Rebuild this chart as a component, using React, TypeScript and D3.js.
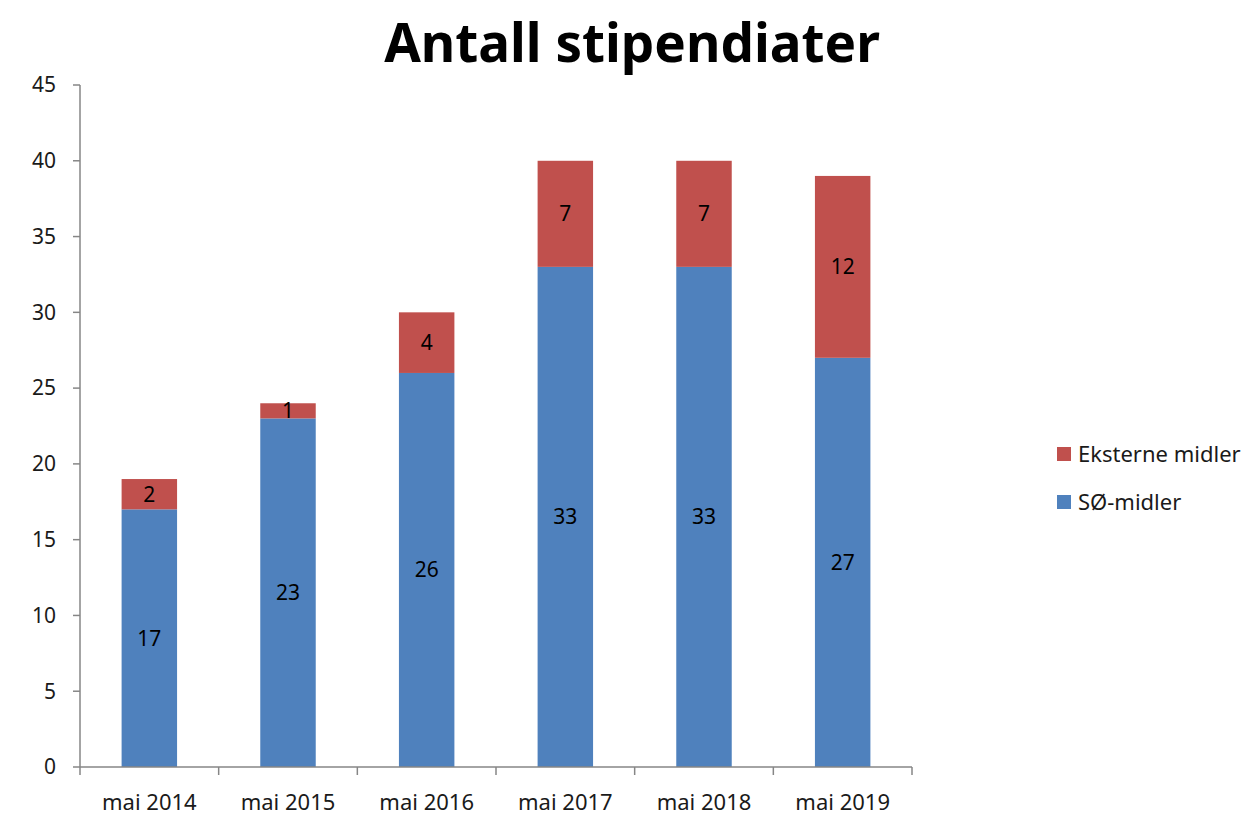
import React, { useEffect, useRef } from "react";
import * as d3 from "d3";

const categories = ["mai 2014", "mai 2015", "mai 2016", "mai 2017", "mai 2018", "mai 2019"];
const soMidler = [17, 23, 26, 33, 33, 27];
const eksterneMidler = [2, 1, 4, 7, 7, 12];
const yTicks = [0, 5, 10, 15, 20, 25, 30, 35, 40, 45];

const FONT = "'Noto Sans', 'Open Sans', sans-serif";

export default function App() {
  const svgRef = useRef<SVGSVGElement>(null);

  useEffect(() => {
    if (!svgRef.current) return;
    const svg = d3.select(svgRef.current);
    svg.selectAll("*").remove();

    const left = 80, right = 912, top = 85, bottom = 767;

    const x = d3.scaleBand<string>().domain(categories).range([left, right]).paddingInner(0.6).paddingOuter(0.3);
    const xEdges = d3.scaleLinear().domain([0, categories.length]).range([left, right]);
    const y = d3.scaleLinear().domain([0, 45]).range([bottom, top]);

    // title
    svg.append("text")
      .attr("x", 632).attr("y", 62)
      .attr("text-anchor", "middle")
      .attr("font-family", FONT)
      .attr("font-weight", "bold")
      .attr("font-size", 53)
      .attr("fill", "#000")
      .text("Antall stipendiater");

    // bars
    const g = svg.append("g");
    categories.forEach((c, i) => {
      const so = soMidler[i];
      const ek = eksterneMidler[i];
      g.append("rect")
        .attr("x", x(c)!).attr("width", x.bandwidth())
        .attr("y", y(so)).attr("height", y(0) - y(so))
        .attr("fill", "#4f81bd");
      g.append("rect")
        .attr("x", x(c)!).attr("width", x.bandwidth())
        .attr("y", y(so + ek)).attr("height", y(so) - y(so + ek))
        .attr("fill", "#c0504d");

      const cx = x(c)! + x.bandwidth() / 2;
      g.append("text")
        .attr("x", cx).attr("y", y(so / 2))
        .attr("dy", "0.35em")
        .attr("text-anchor", "middle")
        .attr("font-family", FONT).attr("font-size", 21)
        .attr("fill", "#000")
        .text(so);
      g.append("text")
        .attr("x", cx).attr("y", y(so + ek / 2))
        .attr("dy", "0.35em")
        .attr("text-anchor", "middle")
        .attr("font-family", FONT).attr("font-size", 21)
        .attr("fill", "#000")
        .text(ek);
    });

    // y axis
    const axisColor = "#868686";
    svg.append("line")
      .attr("x1", left).attr("x2", left)
      .attr("y1", y(45)).attr("y2", y(0))
      .attr("stroke", axisColor).attr("stroke-width", 1.5);
    yTicks.forEach((t) => {
      svg.append("line")
        .attr("x1", left - 7).attr("x2", left)
        .attr("y1", y(t)).attr("y2", y(t))
        .attr("stroke", axisColor).attr("stroke-width", 1.5);
      svg.append("text")
        .attr("x", 56).attr("y", y(t))
        .attr("dy", "0.35em")
        .attr("text-anchor", "end")
        .attr("font-family", FONT).attr("font-size", 21)
        .attr("fill", "#1a1a1a")
        .text(t);
    });

    // x axis
    svg.append("line")
      .attr("x1", left).attr("x2", right)
      .attr("y1", y(0)).attr("y2", y(0))
      .attr("stroke", axisColor).attr("stroke-width", 1.5);
    d3.range(categories.length + 1).forEach((i) => {
      svg.append("line")
        .attr("x1", xEdges(i)).attr("x2", xEdges(i))
        .attr("y1", y(0)).attr("y2", y(0) + 8)
        .attr("stroke", axisColor).attr("stroke-width", 1.5);
    });
    categories.forEach((c) => {
      svg.append("text")
        .attr("x", x(c)! + x.bandwidth() / 2).attr("y", 810)
        .attr("text-anchor", "middle")
        .attr("font-family", FONT).attr("font-size", 22)
        .attr("fill", "#1a1a1a")
        .text(c);
    });

    // legend
    const legend = [
      { label: "Eksterne midler", color: "#c0504d", y: 454 },
      { label: "SØ-midler", color: "#4f81bd", y: 502 },
    ];
    legend.forEach((d) => {
      svg.append("rect")
        .attr("x", 1057).attr("y", d.y - 7)
        .attr("width", 14).attr("height", 14)
        .attr("fill", d.color);
      svg.append("text")
        .attr("x", 1078).attr("y", d.y)
        .attr("dy", "0.35em")
        .attr("font-family", FONT).attr("font-size", 22)
        .attr("fill", "#1a1a1a")
        .text(d.label);
    });
  }, []);

  return (
    <svg
      ref={svgRef}
      width={1251}
      height={817}
      style={{ position: "absolute", left: 0, top: 0, background: "#fff" }}
    />
  );
}
